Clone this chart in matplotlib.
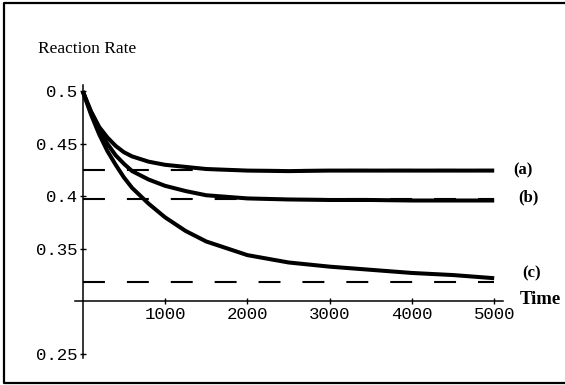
import numpy as np
import matplotlib.pyplot as plt
from matplotlib.lines import Line2D

# values
time = [0, 100, 200, 300, 400, 500, 600, 800, 1000, 1250, 1500, 2000, 2500, 3000, 3500, 4000, 4500, 5000]
rate_a = [0.5, 0.481, 0.466, 0.456, 0.448, 0.442, 0.438, 0.433, 0.430, 0.428, 0.426, 0.4245, 0.424, 0.4245, 0.4245, 0.4245, 0.4245, 0.4245]
rate_b = [0.5, 0.480, 0.463, 0.450, 0.439, 0.431, 0.424, 0.416, 0.410, 0.405, 0.401, 0.398, 0.397, 0.3965, 0.3965, 0.396, 0.396, 0.396]
rate_c = [0.5, 0.478, 0.459, 0.443, 0.430, 0.418, 0.408, 0.393, 0.380, 0.367, 0.357, 0.344, 0.337, 0.333, 0.330, 0.327, 0.325, 0.322]
limits = [0.425, 0.397, 0.3185]
curve_names = ['(a)', '(b)', '(c)']

xticks = [1000, 2000, 3000, 4000, 5000]
yticks = [0.25, 0.35, 0.4, 0.45, 0.5]
ytick_labels = ['0.25', '0.35', '0.4', '0.45', '0.5']

plt.rcParams['lines.scale_dashes'] = False

fig = plt.figure(figsize=(5.65, 3.85), dpi=100)
ax = fig.add_axes([0.1319, 0.0701, 0.7584, 0.7091])

for r in [rate_a, rate_b, rate_c]:
    ax.plot(time, r, color='black', lw=2.9, solid_capstyle='butt')
for lim in limits:
    ax.plot([0, 5000], [lim, lim], color='black', lw=1.5, dashes=(15.8, 15.8))

ax.set_xlim(-100, 5107)
ax.set_ylim(0.246, 0.506)
ax.spines['top'].set_visible(False)
ax.spines['right'].set_visible(False)
ax.spines['left'].set_position(('data', 0))
ax.spines['bottom'].set_position(('data', 0.3))
ax.spines['left'].set_linewidth(1.1)
ax.spines['bottom'].set_linewidth(1.1)

ax.set_xticks(xticks)
ax.set_xticklabels([str(t) for t in xticks])
ax.set_yticks(yticks)
ax.set_yticklabels(ytick_labels)
ax.tick_params(direction='inout', length=4, width=1, pad=2, labelsize=12.5)
for lab in ax.get_xticklabels() + ax.get_yticklabels():
    lab.set_family('Liberation Mono')

serif = 'Liberation Serif'
fig.text(38 / 565, 1 - 49 / 385, 'Reaction Rate', family=serif, fontsize=12.5,
         ha='left', va='center')
fig.text(520 / 565, 1 - 300 / 385, 'Time', family=serif, fontsize=13.5,
         fontweight='bold', ha='left', va='center')
label_pos = [(513, 170), (518, 197), (522, 273)]
for name, (px, py) in zip(curve_names, label_pos):
    fig.text(px / 565, 1 - py / 385, name, family=serif, fontsize=12,
             fontweight='bold', ha='left', va='center')

# frame around the whole graphic: left, top, bottom (right edge is cut off)
x0, y0, y1 = 4 / 565, 2 / 385, 1 - 3 / 385
fig.add_artist(Line2D([1.0, x0, x0, 1.0], [y1, y1, y0, y0], color='black', lw=1.6,
                      transform=fig.transFigure))

fig.savefig('out.png', dpi=100)
